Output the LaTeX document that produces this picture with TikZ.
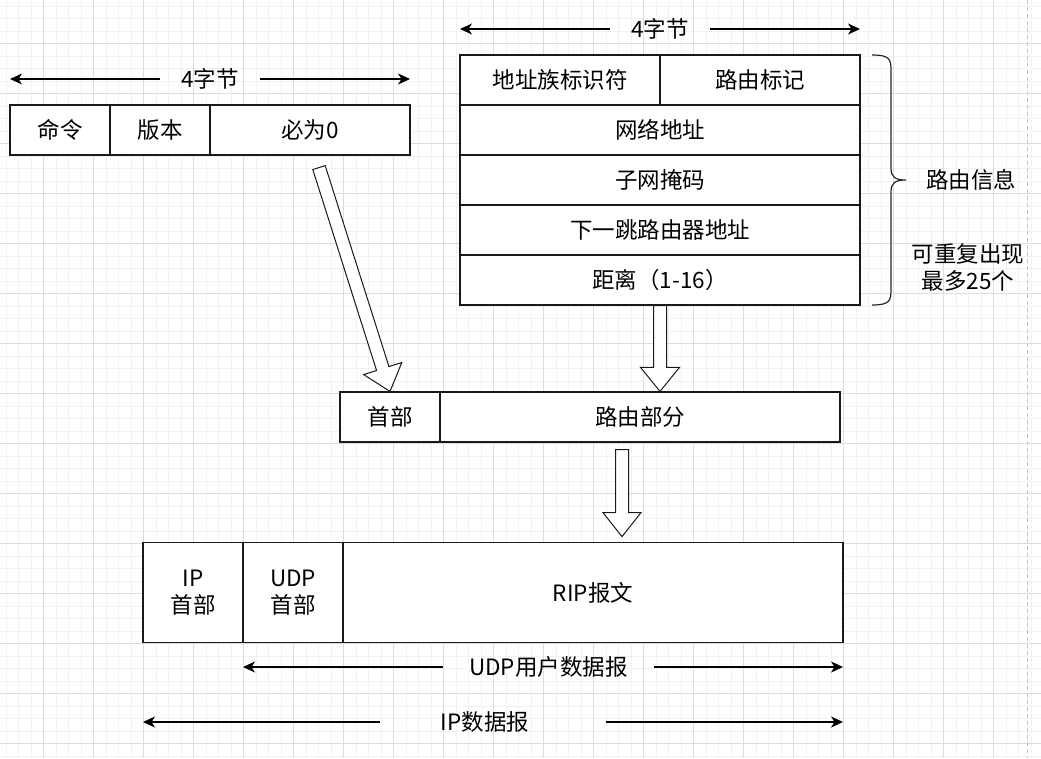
\documentclass[tikz,border=0pt]{standalone}
\usepackage{fontspec}
\setmainfont{Noto Sans CJK SC}
\usetikzlibrary{calc,arrows.meta}
\tikzset{
  minorgrid/.style={draw=gray!10, line width=0.8pt},
  majorgrid/.style={draw=gray!27, line width=0.8pt},
  cell/.style={draw=black!90, line width=1.2pt, fill=white, minimum width=#1, minimum height=50pt, inner sep=0pt, font=\fontsize{22.5}{27}\selectfont, align=center},
  dimlabel/.style={inner sep=0pt, font=\fontsize{22.5}{27}\selectfont},
  dim/.style={line width=1.1pt, -{Stealth[length=12pt,width=11pt,inset=3.5pt]}},
  barrow/.style={draw=black!90, fill=white, line width=1pt, line join=miter},
  bracestyle/.style={draw=black!85, line width=1.2pt},
}
\newcommand{\barr}[4]{% start, end, id, head half width
  \coordinate (h#3) at ($(#2)!24pt!(#1)$);
  \draw[barrow] ($(#1)!6.5pt!90:(#2)$) -- ($(h#3)!6.5pt!-90:(#1)$) -- ($(h#3)!#4!-90:(#1)$) -- (#2) -- ($(h#3)!#4!90:(#1)$) -- ($(h#3)!6.5pt!90:(#1)$) -- ($(#1)!6.5pt!-90:(#2)$) -- cycle;}
\begin{document}
\begin{tikzpicture}[x=1pt,y=-1pt]
\fill[white] (0,0) rectangle (1041,758);
\useasboundingbox (0,0) rectangle (1041,758);
% grid
\foreach \x in {6,18.5,...,1041} \draw[minorgrid] (\x,0) -- (\x,758);
\foreach \y in {6,18.5,...,758} \draw[minorgrid] (0,\y) -- (1041,\y);
\foreach \x in {43,93,...,1041} \draw[majorgrid] (\x,0) -- (\x,758);
\foreach \y in {43,93,...,758} \draw[majorgrid] (0,\y) -- (1041,\y);
\draw[gray!45, line width=1pt, dash pattern=on 4pt off 3pt] (1027,0) -- (1027,758);

% top-left header
\node[cell=100pt] (cmd) at (60,130) {命令};
\node[cell=100pt] (ver) at (160,130) {版本};
\node[cell=200pt] (zero) at (310,130) {必为0};
\node[dimlabel, minimum width=100pt] (t1) at (210,79) {4字节};
\coordinate (t1l) at (10,79);
\coordinate (t1r) at (410,79);
\draw[dim] (t1.west) -- (t1l);
\draw[dim] (t1.east) -- (t1r);

% route entry
\node[cell=200pt] (afi) at (560,80) {地址族标识符};
\node[cell=200pt] (tag) at (760,80) {路由标记};
\node[cell=400pt] (net) at (660,130) {网络地址};
\node[cell=400pt] (mask) at (660,180) {子网掩码};
\node[cell=400pt] (nh) at (660,230) {下一跳路由器地址};
\node[cell=400pt] (dist) at (660,280) {距离（1-16）};
\node[dimlabel, minimum width=100pt] (t2) at (660,29) {4字节};
\coordinate (t2l) at (460,29);
\coordinate (t2r) at (860,29);
\draw[dim] (t2.west) -- (t2l);
\draw[dim] (t2.east) -- (t2r);

% brace
\draw[bracestyle] (872,55) .. controls (891,55) and (891,60) .. (891,72) -- (891,168)
  .. controls (891,177) and (895,180) .. (906,180)
  .. controls (895,180) and (891,183) .. (891,192) -- (891,288)
  .. controls (891,300) and (891,305) .. (872,305);
\node[dimlabel] (rinfo) at (971,180) {路由信息};
\node[dimlabel, align=center] (rep) at (968,267) {可重复出现\\最多25个};

% RIP message
\node[cell=100pt] (hdr) at (390,417) {首部};
\node[cell=400pt] (rp) at (640,417) {路由部分};

% datagram
\node[cell=100pt, minimum height=100pt] (iph) at (193,592.5) {IP\\首部};
\node[cell=100pt, minimum height=100pt] (udph) at (293,592.5) {UDP\\首部};
\node[cell=500pt, minimum height=100pt] (rip) at (593,592.5) {RIP报文};

\node[dimlabel, minimum width=211pt] (udpd) at (548.5,667) {UDP用户数据报};
\coordinate (ul) at (243,667);
\coordinate (ur) at (843,667);
\draw[dim] (udpd.west) -- (ul);
\draw[dim] (udpd.east) -- (ur);

\node[dimlabel, minimum width=210pt] (ipd) at (485,722) {IP数据报};
\coordinate (il) at (143,722);
\coordinate (ir) at (843,722);
\draw[dim] (ipd.west) -- (il);
\draw[dim] ([xshift=16pt]ipd.east) -- (ir);

% block arrows
\coordinate (a1s) at ($(zero.south)+(9,12)$);
\coordinate (a1e) at (hdr.north);
\barr{a1s}{a1e}{one}{20pt}
\coordinate (a2s) at (dist.south);
\coordinate (a2e) at (dist.south |- rp.north);
\barr{a2s}{a2e}{two}{19.5pt}
\coordinate (a3s) at ($(rp.south)+(-18,7)$);
\coordinate (a3e) at ($(rp.south)+(-18,94)$);
\barr{a3s}{a3e}{three}{19pt}
\end{tikzpicture}
\end{document}
